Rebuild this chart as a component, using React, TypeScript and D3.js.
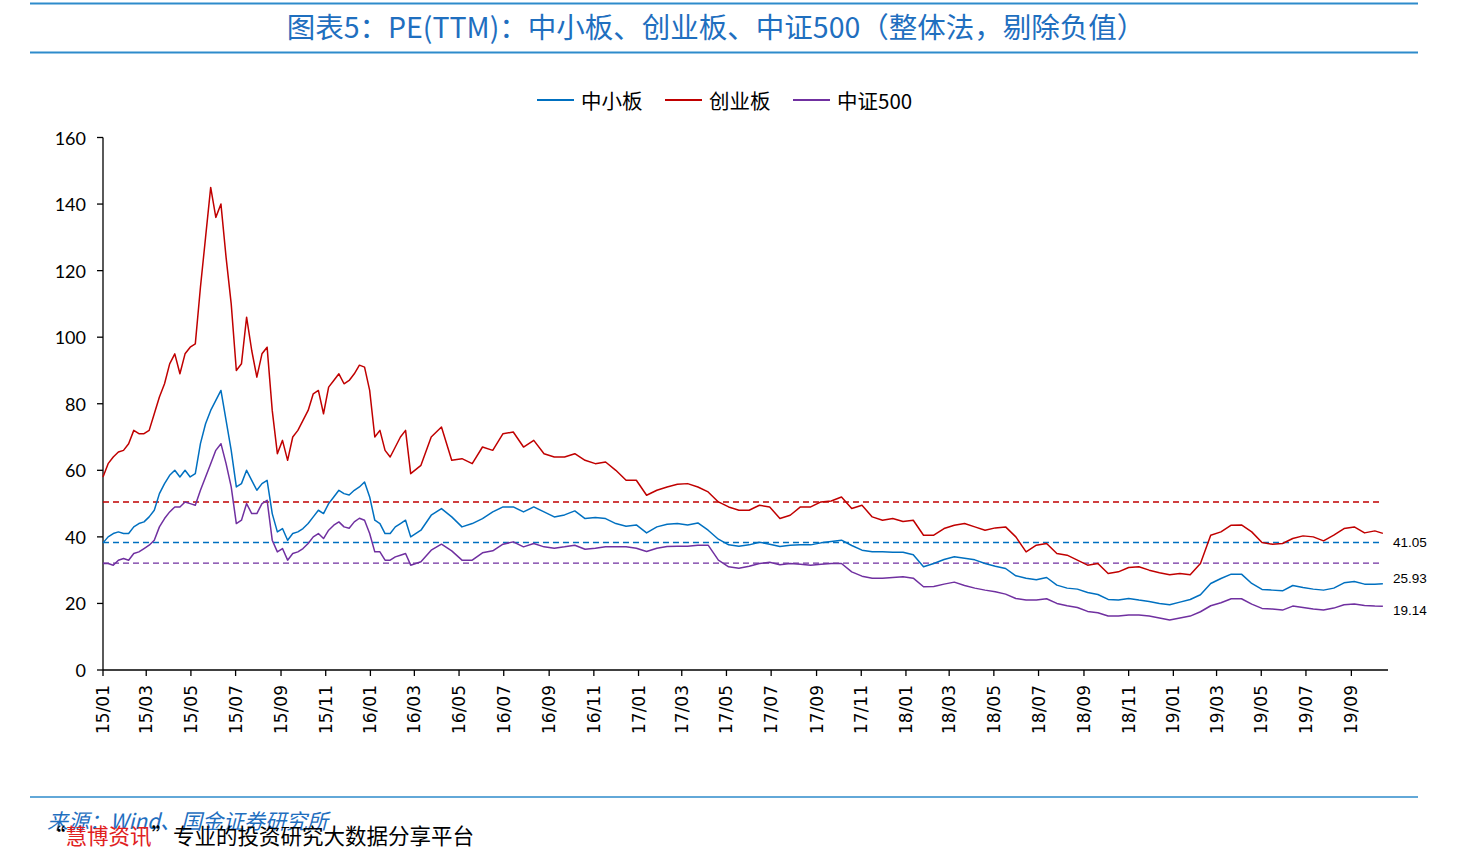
import React from "react"
import * as d3 from "d3"

// readings: weekly through 2016-02-25, then every two weeks
const startDate = new Date(2015, 0, 1)
const axisEnd = new Date(2019, 9, 21)
const lastDate = new Date(2019, 9, 14)
const weeklyCount = 61
const fortnightFirstDay = 434
const fortnightCount = 94

const dates: Date[] = [
    ...d3.range(weeklyCount).map((i) => d3.timeDay.offset(startDate, i * 7)),
    ...d3.range(fortnightCount).map((i) => d3.timeDay.offset(startDate, fortnightFirstDay + i * 14)),
    lastDate,
]

// 中小板
const sme = [
    38.2, 40, 41, 41.5, 41, 41, 43, 44, 44.5, 46,
    48, 53, 56, 58.5, 60, 58, 60, 58, 59, 68,
    74, 78, 81, 84, 75, 66, 55, 56, 60, 57,
    54, 56, 57, 47, 41.5, 42.5, 39, 41, 41.5, 42.5,
    44, 46, 48, 47, 50, 52, 54, 53, 52.6, 54,
    55, 56.5, 52, 45, 44, 41, 41, 43, 44, 45,
    40,
    42, 46.5, 48.5, 46, 43, 44, 45.5, 47.5, 49, 49,
    47.5, 49, 47.5, 46, 46.6, 47.8, 45.5, 45.8, 45.5, 44,
    43.2, 43.6, 41.2, 43, 43.8, 44, 43.6, 44.2, 42, 39.3,
    37.6, 37.2, 37.6, 38.4, 37.8, 37.1, 37.5, 37.6, 37.6, 38.2,
    38.6, 39, 37.4, 36, 35.5, 35.5, 35.4, 35.4, 34.6, 31,
    32, 33.2, 34, 33.6, 33.1, 32, 31.2, 30.5, 28.3, 27.6,
    27.1, 27.8, 25.5, 24.6, 24.3, 23.3, 22.7, 21.2, 21, 21.5,
    21, 20.6, 20, 19.6, 20.4, 21.2, 22.6, 26, 27.5, 28.8,
    28.8, 26, 24.2, 24, 23.8, 25.4, 24.8, 24.3, 24, 24.6,
    26.2, 26.6, 25.8, 25.8,
    25.93,
]

// 创业板
const chinext = [
    58, 62, 64, 65.5, 66, 68, 72, 71, 71, 72,
    77, 82, 86, 92, 95, 89, 95, 97, 98, 115,
    130, 145, 136, 140, 124, 110, 90, 92, 106, 96,
    88, 95, 97, 78, 65, 69, 63, 70, 72, 75,
    78, 83, 84, 77, 85, 87, 89, 86, 87, 89,
    91.6, 91, 84, 70, 72, 66, 64, 67, 70, 72,
    59,
    61.5, 70, 73, 63, 63.5, 62, 67, 66, 71, 71.5,
    67, 69, 65, 64, 64, 65, 63, 62, 62.5, 60,
    57, 57, 52.5, 54, 55, 55.8, 56, 55, 53.5, 50.5,
    49, 48, 48, 49.5, 49, 45.5, 46.5, 49, 49, 50.5,
    50.8, 52, 48.5, 49.5, 46, 45, 45.5, 44.6, 45, 40.5,
    40.5, 42.5, 43.5, 44, 43, 42, 42.7, 43, 40, 35.5,
    37.5, 38, 35, 34.5, 33, 31.5, 32, 29, 29.5, 30.8,
    31, 30, 29.2, 28.6, 29, 28.6, 32, 40.5, 41.5, 43.5,
    43.6, 41.5, 38.3, 37.8, 38, 39.5, 40.3, 40, 38.8, 40.5,
    42.5, 43, 41.2, 41.8,
    41.05,
]

// 中证500
const csi500 = [
    32, 32, 31.5, 33, 33.5, 33, 35, 35.5, 36.5, 37.5,
    39, 43, 45.5, 47.5, 49, 49, 50.5, 50, 49.5, 54,
    58, 62, 66, 68, 62, 55, 44, 45, 50, 47,
    47, 50, 51, 39, 35.5, 36.5, 33, 35, 35.5, 36.5,
    38, 40, 41, 39.5, 42, 43.5, 44.5, 43, 42.6, 44.5,
    45.6, 45, 41, 35.5, 35.5, 33, 33, 34, 34.5, 35,
    31.5,
    32.5, 36, 37.8, 35.8, 33, 33, 35.2, 35.8, 37.8, 38.5,
    37, 38, 37, 36.6, 37, 37.5, 36.3, 36.6, 37, 37,
    37, 36.6, 35.6, 36.6, 37.1, 37.2, 37.2, 37.5, 37.5, 33,
    31, 30.6, 31.2, 32, 32.4, 31.6, 32, 31.8, 31.5, 31.8,
    32, 32, 29.5, 28.2, 27.6, 27.6, 27.8, 28, 27.6, 25,
    25.1, 25.8, 26.4, 25.4, 24.6, 24, 23.5, 22.8, 21.5, 21,
    21, 21.4, 20, 19.3, 18.8, 17.6, 17.2, 16.2, 16.2, 16.5,
    16.5, 16.2, 15.6, 15, 15.6, 16.2, 17.5, 19.3, 20.2, 21.4,
    21.4, 19.8, 18.5, 18.3, 18, 19.2, 18.8, 18.3, 18, 18.6,
    19.6, 19.8, 19.4, 19.2,
    19.14,
]

// dashed reference levels (average over the period)
const smeAvg = 38.3
const chinextAvg = 50.5
const csi500Avg = 32.1

const seriesNames = ["中小板", "创业板", "中证500"]
const titleText = "图表5：PE(TTM)：中小板、创业板、中证500（整体法，剔除负值）"
const sourceText = "来源：Wind、国金证券研究所"

const colors = ["#0070C0", "#C00000", "#7030A0"]

const cjk = "'Noto Sans CJK SC', 'Noto Sans', sans-serif"

export default function App() {
    const x = d3.scaleTime().domain([startDate, axisEnd]).range([103, 1388])
    const y = d3.scaleLinear().domain([0, 160]).range([670, 137.5])

    const line = d3.line<number>().x((_, i) => x(dates[i])).y((d) => y(d))

    const series = [
        { values: sme, avg: smeAvg, color: colors[0], labelDy: -5 },
        { values: chinext, avg: chinextAvg, color: colors[1], labelDy: 9.5 },
        { values: csi500, avg: csi500Avg, color: colors[2], labelDy: 4 },
    ]

    const monthTicks = d3.timeMonth.every(2)!.range(startDate, new Date(2019, 8, 2))
    const fmt = d3.timeFormat("%y/%m")
    const x0 = 103
    const xEnd = x(lastDate)

    const legendX = [537, 665, 793]

    return (
        <svg width={1457} height={850} style={{ position: "absolute", left: 0, top: 0, background: "#fff" }}>
            {/* title block */}
            <line x1={30} x2={1418} y1={3.5} y2={3.5} stroke="#2E8BCB" strokeWidth={2} />
            <text x={716} y={38} textAnchor="middle" fontFamily={cjk} fontSize={28.5} fill="#1F6FBF">{titleText}</text>
            <line x1={30} x2={1418} y1={52.5} y2={52.5} stroke="#2E8BCB" strokeWidth={2} />

            {/* legend */}
            {seriesNames.map((name, i) => (
                <g key={name}>
                    <line x1={legendX[i]} x2={legendX[i] + 37} y1={100} y2={100} stroke={colors[i]} strokeWidth={2} />
                    <text x={legendX[i] + 44} y={100} dominantBaseline="central" fontFamily={cjk} fontSize={20.5} fill="#000">{name}</text>
                </g>
            ))}

            {/* y axis */}
            <line x1={x0} x2={x0} y1={y(160)} y2={y(0)} stroke="#000" strokeWidth={1.3} />
            {y.ticks(8).map((t) => (
                <g key={t}>
                    <line x1={x0 - 6} x2={x0} y1={y(t)} y2={y(t)} stroke="#000" strokeWidth={1.3} />
                    <text x={86} y={y(t)} textAnchor="end" dominantBaseline="central" fontFamily="Lato, sans-serif" fontSize={18} fill="#000">{t}</text>
                </g>
            ))}

            {/* x axis */}
            <line x1={x0} x2={1388} y1={y(0)} y2={y(0)} stroke="#000" strokeWidth={1.3} />
            {monthTicks.map((d) => (
                <g key={d.getTime()}>
                    <line x1={x(d)} x2={x(d)} y1={y(0)} y2={y(0) + 6} stroke="#000" strokeWidth={1.3} />
                    <text transform={`translate(${x(d)}, 685) rotate(-90)`} textAnchor="end" dominantBaseline="central" fontFamily="'DejaVu Sans', sans-serif" fontSize={17} fill="#000">{fmt(d)}</text>
                </g>
            ))}

            {/* average levels */}
            {series.map((s) => (
                <line key={"avg" + s.color} x1={x0} x2={xEnd} y1={y(s.avg)} y2={y(s.avg)} stroke={s.color} strokeWidth={1.4} strokeDasharray="6,4" />
            ))}

            {/* series */}
            {series.map((s) => (
                <path key={s.color} d={line(s.values) || ""} fill="none" stroke={s.color} strokeWidth={1.5} strokeLinejoin="round" />
            ))}

            {/* latest values */}
            {series.map((s) => {
                const last = s.values[s.values.length - 1]
                return (
                    <text key={"lbl" + s.color} x={1393} y={y(last) + s.labelDy} dominantBaseline="central" fontFamily="'Liberation Sans', Arial, sans-serif" fontSize={13.5} fill="#000">{last.toFixed(2)}</text>
                )
            })}

            {/* footer */}
            <line x1={30} x2={1418} y1={797} y2={797} stroke="#2E8BCB" strokeWidth={1.5} />
            <text x={47} y={829} fontFamily={cjk} fontSize={21} fontStyle="italic" fill="#1F6FBF">{sourceText}</text>
            <text x={44} y={844} fontFamily={cjk} fontSize={21.5} fill="#000">
                “<tspan fill="#E02020">慧博资讯</tspan>”专业的投资研究大数据分享平台
            </text>
        </svg>
    )
}
